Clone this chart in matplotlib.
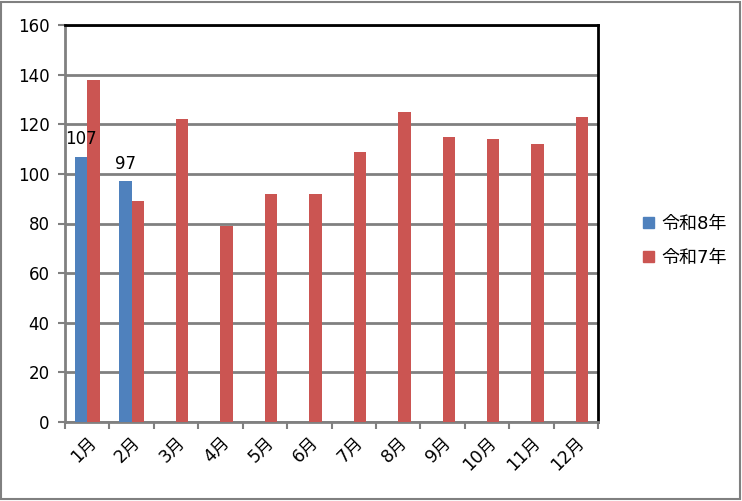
import matplotlib
matplotlib.use("Agg")
from matplotlib import pyplot as plt
from matplotlib.patches import Patch, Rectangle
import numpy as np

plt.rcParams['font.family'] = ['DejaVu Sans', 'Noto Sans CJK JP']

months = ["1月", "2月", "3月", "4月", "5月", "6月", "7月", "8月", "9月", "10月", "11月", "12月"]
r8_values = [107, 97]
r7_values = [138, 89, 122, 79, 92, 92, 109, 125, 115, 114, 112, 123]
series_names = ["令和8年", "令和7年"]
blue = "#4F81BD"
red = "#CB5552"

fig = plt.figure(figsize=(7.42, 5.01), dpi=100)
ax = fig.add_axes([65 / 742, 1 - 422 / 501, 533 / 742, 397 / 501])

x = np.arange(len(months))
w = 0.28
bars8 = ax.bar(x[:len(r8_values)] - w / 2, r8_values, w, color=blue, zorder=3)
ax.bar(x + w / 2, r7_values, w, color=red, zorder=3)

# data labels on the current-year bars
for b, v in zip(bars8, r8_values):
    ax.text(b.get_x() + b.get_width() / 2, v + 3.5, str(v), ha="center",
            va="bottom", fontsize=12)

ax.set_xlim(-0.5, len(months) - 0.5)
ax.set_ylim(0, 160)
ax.set_yticks(range(0, 161, 20))
ax.yaxis.grid(True, color="#808080", linewidth=2, zorder=0)

ax.set_xticks(np.arange(len(months) + 1) - 0.5, minor=False)
ax.set_xticklabels([])
ax.set_xticks(x, minor=True)
ax.set_xticklabels(months, minor=True, rotation=45, ha="right",
                   rotation_mode="anchor", fontsize=12.5)
ax.tick_params(axis="x", which="minor", length=0, pad=8)
ax.tick_params(axis="x", which="major", length=5, width=1.5, color="#808080")
ax.tick_params(axis="y", length=5, width=1.5, color="#808080", labelsize=12, pad=6)

for s in ["left", "bottom"]:
    ax.spines[s].set_color("#808080")
    ax.spines[s].set_linewidth(2)
for s in ["top", "right"]:
    ax.spines[s].set_color("black")
    ax.spines[s].set_linewidth(2)

handles = [Patch(color=blue), Patch(color=red)]
fig.legend(handles, series_names, loc="center left", bbox_to_anchor=(627 / 742, 1 - 241 / 501),
           frameon=False, fontsize=13, handlelength=0.6, handleheight=0.6,
           handletextpad=0.4, labelspacing=0.9)

fig.patches.append(Rectangle((0.002, 0.004), 0.995, 0.992, transform=fig.transFigure,
                             fill=False, edgecolor="#808080", linewidth=1.5))

fig.savefig("out.png", dpi=100)
